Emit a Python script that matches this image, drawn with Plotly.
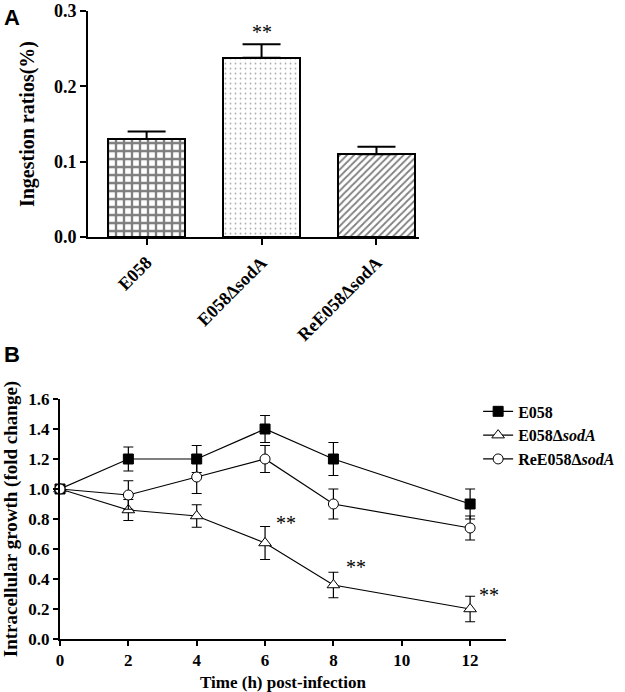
import plotly.graph_objects as go

# Panel A: ingestion ratios
strains = ["E058", "E058ΔsodA", "ReE058ΔsodA"]
ingestion = [0.13, 0.238, 0.11]
ingestion_err = [0.01, 0.018, 0.01]

# Panel B: intracellular growth
hours = [0, 2, 4, 6, 8, 12]
wt = [1.0, 1.2, 1.2, 1.4, 1.2, 0.9]
wt_err = [0, 0.08, 0.09, 0.09, 0.11, 0.1]
mut = [1.0, 0.86, 0.82, 0.64, 0.36, 0.20]
mut_err = [0, 0.07, 0.075, 0.11, 0.085, 0.085]
comp = [1.0, 0.96, 1.08, 1.2, 0.9, 0.74]
comp_err = [0, 0.095, 0.11, 0.09, 0.1, 0.08]

serif = "Liberation Serif"
fig = go.Figure()

patterns = [dict(shape="+", fgcolor="black", bgcolor="white", size=8, solidity=0.5),
            dict(shape=".", fgcolor="#555", bgcolor="white", size=5, solidity=0.1),
            dict(shape="/", fgcolor="black", bgcolor="white", size=5, solidity=0.35)]
for i, s in enumerate(strains):
    fig.add_trace(go.Bar(
        x=[s], y=[ingestion[i]], width=0.67, showlegend=False,
        marker=dict(color="white", line=dict(color="black", width=2), pattern=patterns[i]),
        error_y=dict(type="data", array=[ingestion_err[i]], arrayminus=[0], symmetric=False,
                     color="black", thickness=2, width=19),
        xaxis="x", yaxis="y"))

series = [("<b>E058</b>", wt, wt_err, "square", "black"),
          ("<b>E058Δ<i>sodA</i></b>", mut, mut_err, "triangle-up", "white"),
          ("<b>ReE058Δ<i>sodA</i></b>", comp, comp_err, "circle", "white")]
for name, ys, es, sym, fill in series:
    fig.add_trace(go.Scatter(
        x=hours, y=ys, name=name, mode="lines+markers", cliponaxis=False,
        line=dict(color="black", width=1.2),
        marker=dict(symbol=sym, size=10 if sym != "triangle-up" else 11, color=fill,
                    line=dict(color="black", width=1)),
        error_y=dict(type="data", array=es, color="black", thickness=1.2, width=5),
        xaxis="x2", yaxis="y2"))

axis_common = dict(showline=True, linecolor="black", linewidth=2, ticks="outside",
                   tickcolor="black", tickwidth=2, showgrid=False, zeroline=False,
                   automargin=False, ticklabeloverflow="allow")

def tf(size):
    return dict(family=serif, size=size, weight="bold", color="black")

fig.update_layout(
    width=625, height=692, plot_bgcolor="white", paper_bgcolor="white",
    margin=dict(l=0, r=0, t=0, b=0, pad=0, autoexpand=False),
    font=dict(family=serif, color="black"),
    bargap=0,
    xaxis=dict(domain=[0.1408, 0.6704], range=[-0.51, 2.37], ticklen=6, tickangle=-45,
               tickfont=tf(18), anchor="y", **axis_common),
    yaxis=dict(domain=[0.6575, 0.984], range=[0, 0.3], tickvals=[0, 0.1, 0.2, 0.3],
               tickformat=".1f", ticklen=6, tickfont=tf(18),
               title=dict(text="Ingestion ratios(%)", font=tf(20), standoff=14),
               anchor="x", **axis_common),
    xaxis2=dict(domain=[0.096, 0.8096], range=[0, 13.05], tickvals=[0, 2, 4, 6, 8, 10, 12],
                ticklen=5, tickfont=tf(17),
                title=dict(text="Time (h) post-infection", font=tf(17), standoff=8),
                anchor="y2", **axis_common),
    yaxis2=dict(domain=[0.0766, 0.4234], range=[0, 1.6], dtick=0.2, tickformat=".1f",
                ticklen=5, tickfont=tf(17),
                title=dict(text="Intracellular growth (fold change)", font=tf(19), standoff=8),
                anchor="x2", **axis_common),
    legend=dict(x=0.765, y=0.43, xanchor="left", yanchor="top", font=dict(family=serif, size=16),
                bgcolor="rgba(0,0,0,0)", tracegroupgap=0, itemwidth=30),
    annotations=[
        dict(text="**", x=1, y=0.272, xref="x", yref="y", showarrow=False, font=dict(size=20)),
        dict(text="**", x=6.6, y=0.77, xref="x2", yref="y2", showarrow=False, font=dict(size=20)),
        dict(text="**", x=8.65, y=0.48, xref="x2", yref="y2", showarrow=False, font=dict(size=20)),
        dict(text="**", x=12.55, y=0.29, xref="x2", yref="y2", showarrow=False, font=dict(size=20)),
        dict(text="<b>A</b>", x=0.003, y=0.974, xref="paper", yref="paper", showarrow=False,
             xanchor="left", yanchor="middle", font=dict(family="Liberation Sans", size=22)),
        dict(text="<b>B</b>", x=0.003, y=0.487, xref="paper", yref="paper", showarrow=False,
             xanchor="left", yanchor="middle", font=dict(family="Liberation Sans", size=22)),
    ],
)

# the page's default body margin would shift the figure by 8px
fig.write_html("out.html", config={"displayModeBar": False},
               post_script="document.body.style.margin='0px';")
